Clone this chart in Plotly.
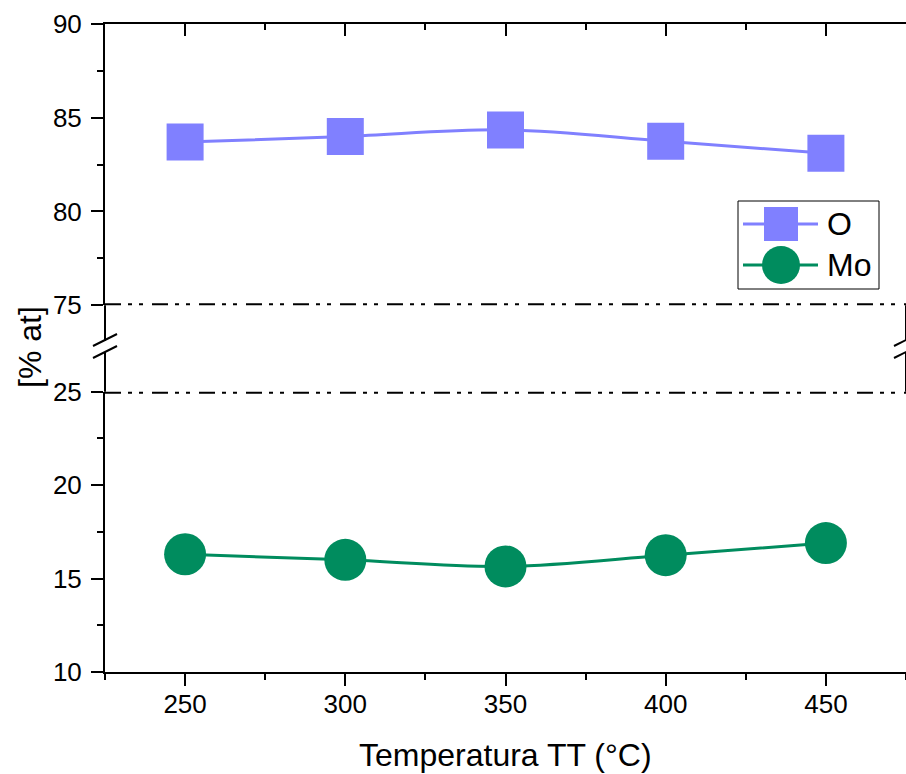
import plotly.graph_objects as go

# ---- data ----
temperatures = [250, 300, 350, 400, 450]
o_values = [83.7, 84.0, 84.35, 83.75, 83.1]
mo_values = [16.3, 16.0, 15.65, 16.25, 16.9]
series_names = ["O", "Mo"]
x_title = "Temperatura TT (°C)"
y_title = "[% at]"

O_COLOR = "#8080FF"
MO_COLOR = "#008C5E"
FONT = "Arial, Liberation Sans, sans-serif"

W, H = 906, 774
ML, MR, MT, MB = 105, 0, 24, 102
LOW_DOM = [0, 0.4326]
UP_DOM = [0.566, 1]

fig = go.Figure()

fig.add_trace(go.Scatter(
    x=temperatures, y=o_values, name=series_names[0], xaxis="x2", yaxis="y2",
    mode="lines+markers", line=dict(color=O_COLOR, width=3, shape="spline"),
    marker=dict(symbol="square", size=37, color=O_COLOR, line=dict(width=0)),
    showlegend=False))
fig.add_trace(go.Scatter(
    x=temperatures, y=mo_values, name=series_names[1], xaxis="x", yaxis="y",
    mode="lines+markers", line=dict(color=MO_COLOR, width=3, shape="spline"),
    marker=dict(symbol="circle", size=42, color=MO_COLOR, line=dict(width=0)),
    showlegend=False))

tickfont = dict(family=FONT, size=26, color="black")
common_ax = dict(showgrid=False, zeroline=False, linecolor="black", linewidth=2,
                 tickcolor="black", tickwidth=2, tickfont=tickfont, automargin=False)

def minor(direction, dt):
    return dict(ticks=direction, ticklen=6, dtick=dt, tick0=0,
                tickcolor="black", tickwidth=2)

fig.update_layout(
    width=W, height=H,
    margin=dict(l=ML, r=MR, t=MT, b=MB, autoexpand=False),
    plot_bgcolor="white", paper_bgcolor="white",
    font=dict(family=FONT, color="black"),
    xaxis=dict(domain=[0, 1], range=[225, 475], anchor="y", showline=True,
               ticks="outside", ticklen=12, tick0=0, dtick=50,
               ticklabelstandoff=-4,
               minor=minor("outside", 25), **common_ax),
    xaxis2=dict(domain=[0, 1], range=[225, 475], anchor="y2", side="top",
                matches="x", showline=True, ticks="inside", ticklen=12,
                tick0=0, dtick=50, showticklabels=False,
                minor=minor("inside", 25), **common_ax),
    yaxis=dict(domain=LOW_DOM, range=[10, 25], anchor="x", showline=True,
               ticks="outside", ticklen=12, tick0=0, dtick=5,
               ticklabelstandoff=4,
               minor=minor("outside", 2.5), **common_ax),
    yaxis2=dict(domain=UP_DOM, range=[75, 90], anchor="x2", showline=True,
                ticks="outside", ticklen=12, tick0=0, dtick=5,
                ticklabelstandoff=4,
                minor=minor("outside", 2.5), **common_ax),
    yaxis3=dict(overlaying="y", side="right", anchor="x", range=[10, 25],
                showline=False, ticks="inside", ticklen=12, tick0=0, dtick=5,
                showticklabels=False, minor=minor("inside", 2.5), **common_ax),
    yaxis4=dict(overlaying="y2", side="right", anchor="x2", range=[75, 90],
                showline=False, ticks="inside", ticklen=12, tick0=0, dtick=5,
                showticklabels=False, minor=minor("inside", 2.5), **common_ax),
)

shapes = []
DASH = "16px,7px,4px,7px,4px,9px"
# dash-dot boundaries of the broken axis
shapes.append(dict(type="line", xref="x domain", yref="y2", x0=0, x1=1, y0=75, y1=75,
                   line=dict(color="black", width=4, dash=DASH)))
shapes.append(dict(type="line", xref="x domain", yref="y", x0=0, x1=1, y0=25, y1=25,
                   line=dict(color="black", width=4, dash=DASH)))

def py(p):
    return (H - MB - p) / (H - MT - MB)

def px(p):
    return (p - ML) / (W - ML - MR)

PW = W - ML - MR
# spine segments between panels + break marks
for xs in (0, 1):
    shapes.append(dict(type="line", xref="paper", yref="paper", x0=xs, x1=xs,
                       y0=UP_DOM[0], y1=py(341), line=dict(color="black", width=2)))
    shapes.append(dict(type="line", xref="paper", yref="paper", x0=xs, x1=xs,
                       y0=py(352), y1=LOW_DOM[1], line=dict(color="black", width=2)))
    for c in (340, 352):
        shapes.append(dict(type="line", xref="paper", yref="paper",
                           x0=xs - 12 / PW, x1=xs + 12 / PW,
                           y0=py(c + 6), y1=py(c - 6),
                           line=dict(color="black", width=2)))

# custom legend
shapes.append(dict(type="rect", xref="paper", yref="paper",
                   x0=px(738), x1=px(879), y0=py(289), y1=py(201),
                   line=dict(color="black", width=1), fillcolor="white", layer="above"))
legend_rows = [(224, O_COLOR, "rect", 34), (265, MO_COLOR, "circle", 38)]
annotations = []
for (row_y, col, kind, sz), name in zip(legend_rows, series_names):
    shapes.append(dict(type="line", xref="paper", yref="paper",
                       x0=px(743), x1=px(818), y0=py(row_y), y1=py(row_y),
                       line=dict(color=col, width=3), layer="above"))
    shapes.append(dict(type=kind, xref="paper", yref="paper",
                       xsizemode="pixel", ysizemode="pixel",
                       xanchor=px(781), yanchor=py(row_y),
                       x0=-sz / 2, x1=sz / 2, y0=-sz / 2, y1=sz / 2,
                       fillcolor=col, line=dict(width=0), layer="above"))
    annotations.append(dict(text=name, xref="paper", yref="paper", x=px(825),
                            y=py(row_y), xanchor="left", yanchor="middle",
                            showarrow=False, font=dict(family=FONT, size=32, color="black")))

annotations.append(dict(text=x_title, xref="paper", yref="paper", x=0.5, y=py(755),
                        xanchor="center", yanchor="middle", showarrow=False,
                        font=dict(family=FONT, size=32, color="black")))
annotations.append(dict(text=y_title, xref="paper", yref="paper", x=px(30), y=py(347),
                        xanchor="center", yanchor="middle", textangle=-90, showarrow=False,
                        font=dict(family=FONT, size=32, color="black")))

fig.update_layout(shapes=shapes, annotations=annotations)

fig.write_html("out.html", config={"displayModeBar": False},
               post_script="document.body.style.margin='0';document.body.style.overflow='hidden';")
